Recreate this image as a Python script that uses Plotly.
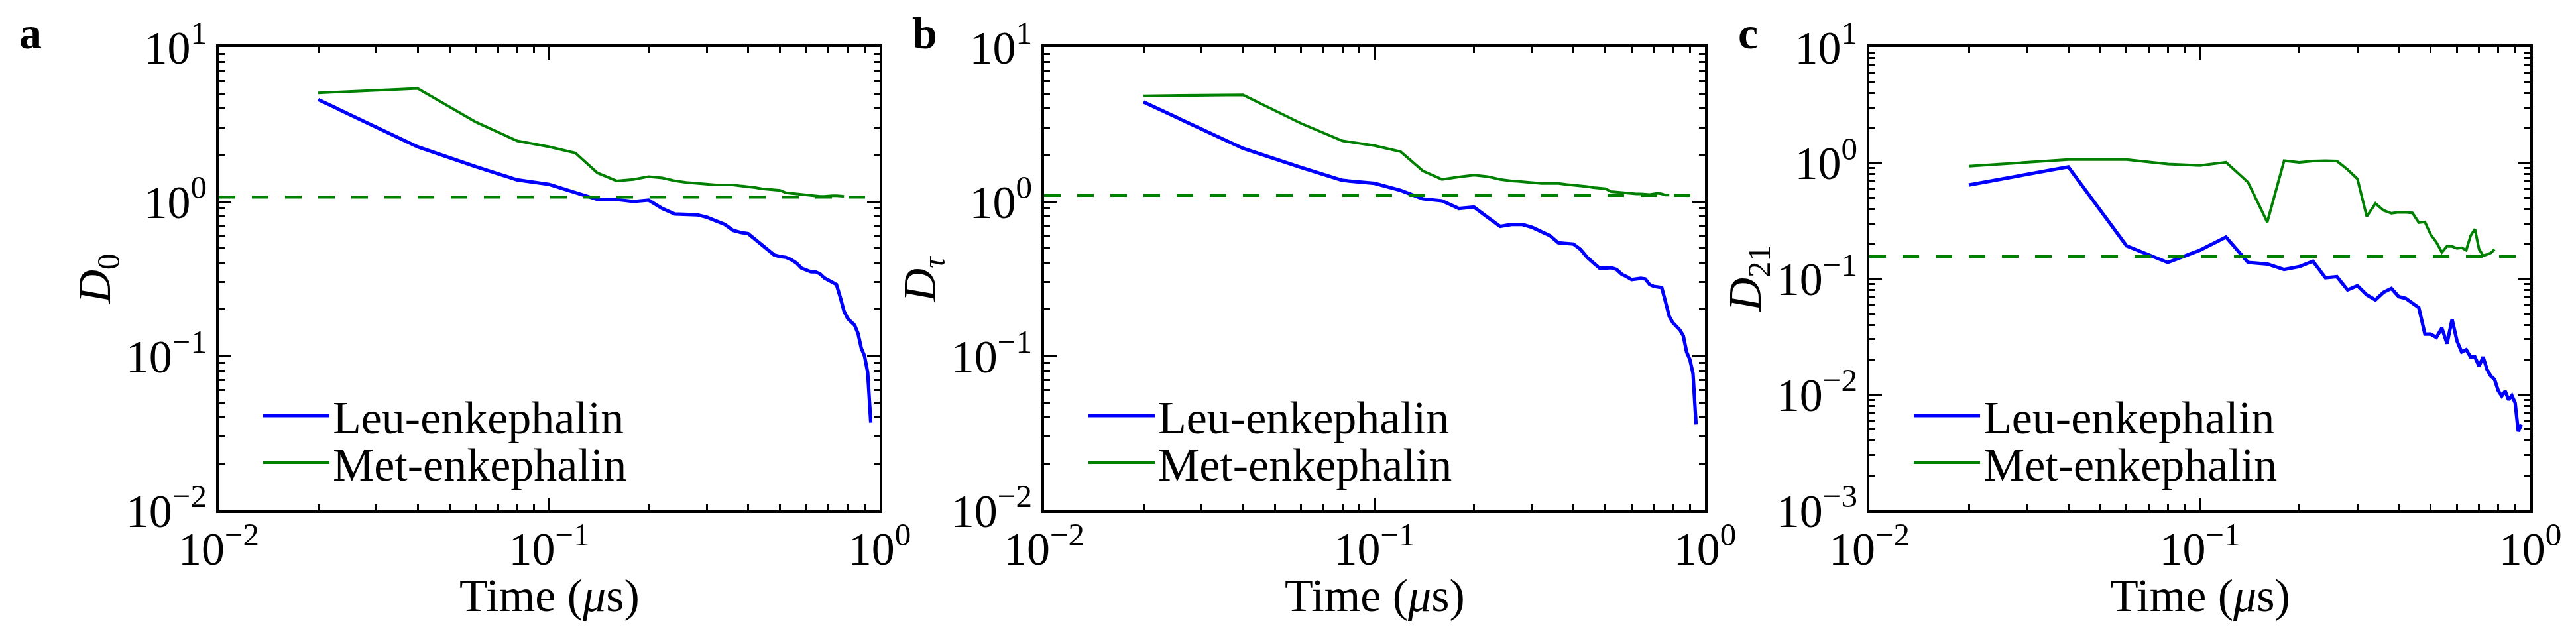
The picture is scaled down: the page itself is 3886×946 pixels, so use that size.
import plotly.graph_objects as go

W, H = 3886, 946

# ---------------- data ----------------
time_leu = [0.02, 0.04, 0.06, 0.08, 0.10, 0.12, 0.14, 0.16, 0.18, 0.20,
            0.22, 0.24, 0.26, 0.28, 0.30, 0.32, 0.34, 0.36, 0.38, 0.40,
            0.42, 0.44, 0.46, 0.48, 0.50, 0.52, 0.54, 0.56, 0.58, 0.60,
            0.62, 0.64, 0.66, 0.68, 0.70, 0.72, 0.74, 0.76, 0.78, 0.80,
            0.82, 0.84, 0.86, 0.88, 0.90, 0.92, 0.94]
time_met = [0.02, 0.04, 0.06, 0.08, 0.10, 0.12, 0.14, 0.16, 0.18, 0.20,
            0.22, 0.24, 0.26, 0.28, 0.30, 0.32, 0.34, 0.36, 0.38, 0.40,
            0.42, 0.44, 0.46, 0.48, 0.50, 0.52, 0.54, 0.56, 0.58, 0.60,
            0.62, 0.64, 0.66, 0.68, 0.70, 0.72, 0.74, 0.76, 0.78]

# panel a: D0
d0_leu = [4.57, 2.26, 1.68, 1.38, 1.29, 1.15, 1.03, 1.03, 1.00, 1.02,
          0.90, 0.83, 0.83, 0.82, 0.79, 0.75, 0.71, 0.65, 0.63, 0.62,
          0.57, 0.52, 0.48, 0.45, 0.44, 0.435, 0.42, 0.40, 0.37, 0.36,
          0.35, 0.35, 0.34, 0.32, 0.31, 0.30, 0.29, 0.24, 0.195, 0.175,
          0.167, 0.158, 0.14, 0.112, 0.10, 0.078, 0.037]
d0_met = [5.05, 5.39, 3.27, 2.47, 2.26, 2.06, 1.53, 1.36, 1.39, 1.45,
          1.42, 1.36, 1.33, 1.31, 1.30, 1.28, 1.28, 1.28, 1.26, 1.25,
          1.23, 1.21, 1.20, 1.19, 1.18, 1.14, 1.13, 1.12, 1.11, 1.10,
          1.09, 1.09, 1.08, 1.08, 1.09, 1.09, 1.09, 1.08, 1.08]
d0_ref = 1.07

# panel b: D_tau
dtau_leu = [4.41, 2.21, 1.66, 1.37, 1.31, 1.18, 1.04, 1.01, 0.90, 0.92,
            0.79, 0.69, 0.71, 0.71, 0.68, 0.64, 0.60, 0.54, 0.535, 0.53,
            0.49, 0.435, 0.40, 0.37, 0.37, 0.373, 0.363, 0.338, 0.326, 0.312,
            0.315, 0.318, 0.315, 0.29, 0.282, 0.279, 0.277, 0.223, 0.18, 0.164,
            0.155, 0.147, 0.135, 0.106, 0.095, 0.077, 0.036]
dtau_met = [4.83, 4.90, 3.20, 2.47, 2.30, 2.10, 1.58, 1.39, 1.44, 1.48,
            1.45, 1.39, 1.36, 1.34, 1.33, 1.31, 1.31, 1.31, 1.29, 1.28,
            1.27, 1.25, 1.23, 1.22, 1.21, 1.16, 1.15, 1.14, 1.135, 1.13,
            1.12, 1.12, 1.115, 1.11, 1.12, 1.13, 1.12, 1.10, 1.10]
dtau_ref = 1.095

# panel c: D21
d21_leu = [0.644, 0.924, 0.1925, 0.138, 0.176, 0.229, 0.138, 0.134, 0.120, 0.127,
           0.1415, 0.102, 0.104, 0.080, 0.087, 0.0726, 0.0656, 0.0765, 0.0824, 0.070,
           0.0676, 0.0609, 0.0562, 0.0332, 0.0332, 0.0311, 0.0375, 0.0275, 0.0445, 0.0291,
           0.0233, 0.0244, 0.0211, 0.0211, 0.01755, 0.0211, 0.01643, 0.0144, 0.0135, 0.0108,
           0.0097, 0.0107, 0.0090, 0.0098, 0.0085, 0.0048, 0.0055]
d21_met = [0.936, 1.068, 1.068, 0.978, 0.949, 1.013, 0.679, 0.308, 1.045, 1.009,
           1.036, 1.045, 1.036, 0.877, 0.726, 0.345, 0.447, 0.389, 0.367, 0.375,
           0.373, 0.370, 0.305, 0.309, 0.240, 0.206, 0.169, 0.191, 0.190, 0.183,
           0.185, 0.176, 0.235, 0.268, 0.180, 0.158, 0.162, 0.167, 0.179]
d21_ref = 0.156

x_tickvals = [0.01, 0.1, 1.0]
x_ticktext = ["10<sup>\u22122</sup>", "10<sup>\u22121</sup>", "10<sup>0</sup>"]
y_tickvals_ab = [0.01, 0.1, 1.0, 10.0]
y_ticktext_ab = ["10<sup>\u22122</sup>", "10<sup>\u22121</sup>", "10<sup>0</sup>", "10<sup>1</sup>"]
y_tickvals_c = [0.001, 0.01, 0.1, 1.0, 10.0]
y_ticktext_c = ["10<sup>\u22123</sup>", "10<sup>\u22122</sup>", "10<sup>\u22121</sup>", "10<sup>0</sup>", "10<sup>1</sup>"]
x_limits = [0.01, 1.0]

series_names = ["Leu-enkephalin", "Met-enkephalin"]
panel_letters = ["a", "b", "c"]
y_titles = ["<i>D</i><sub>0</sub>", "<i>D</i><sub><i>\u03c4</i></sub>", "<i>D</i><sub>21</sub>"]
x_title = "Time (<i>\u03bc</i>s)"

# ---------------- style ----------------
FONT = "Liberation Serif"
BLUE = "#0000ff"
GREEN = "#008000"
FS = 70

def px_x(p):
    return p / W

def px_y(p):
    return 1 - p / H

ax_left = [330, 1575, 2820]
ax_w = 997
ax_top, ax_bot = 71, 770
letter_x = [46, 1395, 2637]
legend_rows = [627, 698]

def minor_vals(lo_exp, hi_exp):
    vals = []
    for e in range(lo_exp, hi_exp):
        for k in range(2, 10):
            vals.append(k * 10.0 ** e)
    return vals

fig = go.Figure()

panels = [
    (d0_leu, d0_met, d0_ref),
    (dtau_leu, dtau_met, dtau_ref),
    (d21_leu, d21_met, d21_ref),
]

def legend_name(k):
    return "legend" if k == 0 else f"legend{k+1}"

for i, (leu, met, ref) in enumerate(panels):
    xa = "x" if i == 0 else f"x{i+1}"
    ya = "y" if i == 0 else f"y{i+1}"
    fig.add_trace(go.Scatter(x=time_leu, y=leu, mode="lines", name=series_names[0],
                             line=dict(color=BLUE, width=5.2), xaxis=xa, yaxis=ya,
                             legend=legend_name(2 * i)))
    fig.add_trace(go.Scatter(x=time_met, y=met, mode="lines", name=series_names[1],
                             line=dict(color=GREEN, width=4), xaxis=xa, yaxis=ya,
                             legend=legend_name(2 * i + 1)))
    fig.add_trace(go.Scatter(x=x_limits, y=[ref, ref], mode="lines", showlegend=False,
                             line=dict(color=GREEN, width=4.5, dash="25px,25px"),
                             xaxis=xa, yaxis=ya, hoverinfo="skip"))

layout = dict(
    width=W, height=H,
    margin=dict(l=0, r=0, t=0, b=0),
    paper_bgcolor="white", plot_bgcolor="white",
    font=dict(family=FONT, size=FS, color="black"),
    showlegend=True,
)

axis_common = dict(
    type="log", showgrid=False, zeroline=False, automargin=False,
    showline=True, linecolor="black", linewidth=4, mirror="ticks",
    ticks="inside", ticklen=19, tickwidth=2.5, tickcolor="black",
    tickfont=dict(family=FONT, size=FS, color="black"),
)

annotations = []
for i in range(3):
    sfx = "" if i == 0 else str(i + 1)
    x0 = ax_left[i]
    xdom = [px_x(x0), px_x(x0 + ax_w)]
    ydom = [px_y(ax_bot), px_y(ax_top)]
    layout["xaxis" + sfx] = dict(
        axis_common, domain=xdom, anchor="y" + sfx, range=[-2, 0],
        tickmode="array", tickvals=x_tickvals, ticktext=x_ticktext,
        ticklabelstandoff=-6,
        minor=dict(tickmode="array", tickvals=minor_vals(-2, 0), ticks="inside",
                   ticklen=9, tickwidth=2.5, tickcolor="black"),
    )
    if i < 2:
        yr, tv, tt, mv = [-2, 1], y_tickvals_ab, y_ticktext_ab, minor_vals(-2, 1)
    else:
        yr, tv, tt, mv = [-3, 1], y_tickvals_c, y_ticktext_c, minor_vals(-3, 1)
    layout["yaxis" + sfx] = dict(
        axis_common, domain=ydom, anchor="x" + sfx, range=yr,
        tickmode="array", tickvals=tv, ticktext=tt,
        minor=dict(tickmode="array", tickvals=mv, ticks="inside",
                   ticklen=9, tickwidth=2.5, tickcolor="black"),
    )
    for r in range(2):
        layout[legend_name(2 * i + r)] = dict(
            x=px_x(x0 + 62), y=px_y(legend_rows[r]), xanchor="left", yanchor="middle",
            bgcolor="rgba(0,0,0,0)", borderwidth=0,
            font=dict(family=FONT, size=FS, color="black"),
            itemwidth=100,
        )
    annotations.append(dict(text="<b>" + panel_letters[i] + "</b>", xref="paper", yref="paper",
                            x=px_x(letter_x[i]), y=px_y(50), xanchor="center", yanchor="middle",
                            showarrow=False, font=dict(family=FONT, size=68, color="black")))
    annotations.append(dict(text=y_titles[i], xref="paper", yref="paper",
                            x=px_x(x0 - 183), y=px_y((ax_top + ax_bot) / 2),
                            xanchor="center", yanchor="middle", textangle=-90,
                            showarrow=False, font=dict(family=FONT, size=FS, color="black")))
    annotations.append(dict(text=x_title, xref="paper", yref="paper",
                            x=px_x(x0 + ax_w / 2), y=px_y(898),
                            xanchor="center", yanchor="middle",
                            showarrow=False, font=dict(family=FONT, size=FS, color="black")))

layout["annotations"] = annotations
fig.update_layout(**layout)

fig.write_html("out.html", config={"displayModeBar": False},
               post_script="document.body.style.margin='0';document.body.style.overflow='hidden';")
